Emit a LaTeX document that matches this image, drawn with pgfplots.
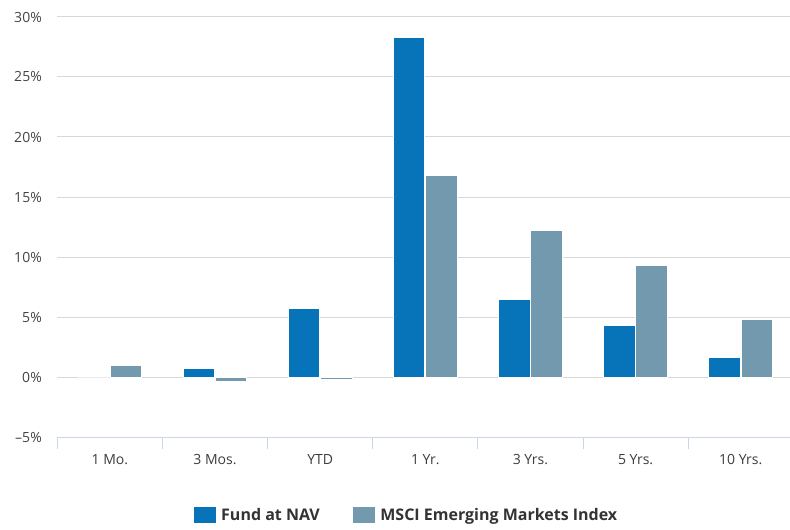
\documentclass[border=0pt]{standalone}
\usepackage{fontspec}
\setmainfont{Open Sans}
\usepackage{pgfplots}
\pgfplotsset{compat=1.18}
\definecolor{fund}{HTML}{0773B8}
\definecolor{msci}{HTML}{7399AF}
\definecolor{gridc}{HTML}{D8D8D8}
\definecolor{axisc}{HTML}{CCD6EB}
\definecolor{ylab}{HTML}{444444}
\definecolor{xlab}{HTML}{3C3C3C}
\definecolor{leg}{HTML}{333333}
\begin{document}
\begin{tikzpicture}
\begin{axis}[
  scale only axis, width=736bp, height=420bp,
  xmin=-0.5, xmax=6.5, ymin=-5, ymax=30,
  ybar, bar width=0.3,
  axis x line=bottom, axis y line=left,
  x axis line style={draw=axisc, line width=1bp, -},
  y axis line style={draw=none},
  xtick={0,...,6},
  xticklabels={1 Mo.,3 Mos.,YTD,1 Yr.,3 Yrs.,5 Yrs.,10 Yrs.},
  minor xtick={-0.5,0.5,...,6.5},
  major tick length=0pt, minor tick length=12bp,
  tick align=outside,
  minor x tick style={draw=axisc, line width=1bp},
  xtick style={draw=none}, ytick style={draw=none},
  ytick={-5,0,...,30},
  yticklabels={–5\%,0\%,5\%,10\%,15\%,20\%,25\%,30\%},
  ymajorgrids, major grid style={draw=gridc, line width=1bp},
  yticklabel style={font=\fontsize{14bp}{16bp}\selectfont, text=ylab, xshift=-12bp},
  xticklabel style={font=\fontsize{14bp}{16bp}\selectfont, text=xlab, yshift=-14bp},
  legend style={at={(axis description cs:0.1817,-0.186)}, anchor=west, draw=none,
    legend columns=2, font=\bfseries\fontsize{16bp}{19bp}\selectfont, text=leg,
    /tikz/every odd column/.append style={column sep=3bp},
    /tikz/every even column/.append style={column sep=31.5bp}},
  legend image code/.code={\fill[#1,draw=none] (0bp,-8bp) rectangle (22bp,8bp);},
]
\addplot[fill=fund, draw=white, line width=1bp, bar shift=-0.153] coordinates {
  (0,0) (1,0.75) (2,5.72) (3,28.25) (4,6.5) (5,4.33) (6,1.64)};
\addplot[fill=msci, draw=white, line width=1bp, bar shift=0.153] coordinates {
  (0,0.97) (1,-0.39) (2,-0.17) (3,16.83) (4,12.17) (5,9.33) (6,4.81)};
\legend{Fund at NAV, MSCI Emerging Markets Index}
\end{axis}
\pgfresetboundingbox
\path ([xshift=-57.3bp,yshift=-92bp]current axis.south west) rectangle ([xshift=-3.3bp,yshift=17bp]current axis.north east);
\end{tikzpicture}
\end{document}
